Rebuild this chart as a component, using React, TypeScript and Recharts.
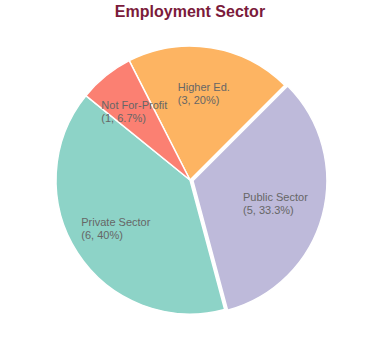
import React from "react";
import { PieChart, Pie, Cell } from "recharts";

const categories = ["Higher Ed.", "Public Sector", "Private Sector", "Not For-Profit"];
const counts = [3, 5, 6, 1];
const colors = ["#fdb462", "#bebada", "#8dd3c7", "#fb8072"];
const explodedIndex = 1;

const data = categories.map((name, i) => ({ name, value: counts[i] }));

const RAD = Math.PI / 180;
const LABEL_FONT = "11px 'Liberation Sans', Arial, sans-serif";

let ctx: CanvasRenderingContext2D | null = null;
function measure(s: string): number {
  if (!ctx) {
    const c = document.createElement("canvas");
    ctx = c.getContext("2d");
  }
  if (!ctx) return s.length * 5.6;
  ctx.font = LABEL_FONT;
  return ctx.measureText(s).width;
}

function fmtPct(p: number): string {
  const v = Math.round(p * 1000) / 10;
  return (Number.isInteger(v) ? v.toFixed(0) : v.toFixed(1)) + "%";
}

const renderLabel = (props: any) => {
  const { cx, cy, midAngle, outerRadius, percent, name, value } = props;
  const r = outerRadius * 0.66;
  const x = cx + r * Math.cos(-midAngle * RAD);
  const y = cy + r * Math.sin(-midAngle * RAD);
  const l1 = String(name);
  const l2 = `(${value}, ${fmtPct(percent)})`;
  const w = Math.max(measure(l1), measure(l2));
  const x0 = x - w / 2;
  return (
    <text
      x={x0}
      y={y}
      fill="#666666"
      fontSize={11}
      fontFamily="'Liberation Sans', Arial, sans-serif"
      textAnchor="start"
    >
      <tspan x={x0} y={y - 2}>{l1}</tspan>
      <tspan x={x0} y={y + 11}>{l2}</tspan>
    </text>
  );
};

const CX = 190;
const CY = 180;
const R = 134;
const START = 117;
const OFFSET = 3;

export default function App() {
  const total = counts.reduce((a, b) => a + b, 0);
  const before = counts.slice(0, explodedIndex).reduce((a, b) => a + b, 0);
  const mid = START - ((before + counts[explodedIndex] / 2) / total) * 360;
  const dx = OFFSET * Math.cos(mid * RAD);
  const dy = -OFFSET * Math.sin(mid * RAD);

  return (
    <div style={{ position: "absolute", left: 0, top: 0, width: 380, height: 360, background: "#fff" }}>
      <div
        style={{
          position: "absolute",
          left: 0,
          top: 2,
          width: 380,
          textAlign: "center",
          fontFamily: "'Liberation Sans', Arial, sans-serif",
          fontWeight: "bold",
          fontSize: 16,
          color: "#7b1b3b",
          lineHeight: "20px",
        }}
      >
        Employment Sector
      </div>
      <PieChart
        width={380}
        height={360}
        margin={{ top: 0, right: 0, bottom: 0, left: 0 }}
        style={{ position: "absolute", left: 0, top: 0 }}
      >
        <Pie
          data={data}
          dataKey="value"
          nameKey="name"
          cx={CX + dx}
          cy={CY + dy}
          outerRadius={R}
          startAngle={START}
          endAngle={START - 360}
          isAnimationActive={false}
          label={false}
          labelLine={false}
        >
          {data.map((d, i) => (
            <Cell
              key={d.name}
              fill={i === explodedIndex ? colors[i] : "transparent"}
              stroke={i === explodedIndex ? "#ffffff" : "none"}
              strokeWidth={1.5}
            />
          ))}
        </Pie>
        <Pie
          data={data}
          dataKey="value"
          nameKey="name"
          cx={CX}
          cy={CY}
          outerRadius={R}
          startAngle={START}
          endAngle={START - 360}
          isAnimationActive={false}
          label={renderLabel}
          labelLine={false}
        >
          {data.map((d, i) => (
            <Cell
              key={d.name}
              fill={i === explodedIndex ? "transparent" : colors[i]}
              stroke={i === explodedIndex ? "none" : "#ffffff"}
              strokeWidth={1.5}
            />
          ))}
        </Pie>
      </PieChart>
    </div>
  );
}
